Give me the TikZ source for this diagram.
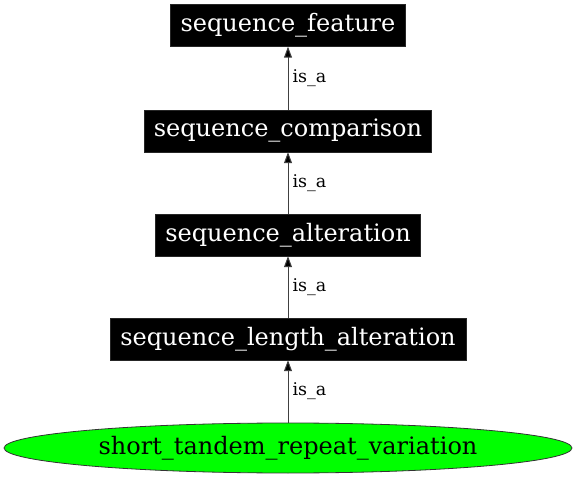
\documentclass[tikz,border=0pt]{standalone}
\usepackage{fontspec}
\setmainfont{DejaVu Serif}
\usetikzlibrary{arrows.meta,shapes.geometric}
\begin{document}
\begin{tikzpicture}[x=1pt,y=-1pt,
  termbox/.style={fill=black,text=white,draw=black!85,inner sep=0pt,font=\fontsize{24}{28}\selectfont},
  isa/.style={draw=black!75,line width=1pt,-{Triangle[length=11pt,width=8pt,fill=black]}},
  lbl/.style={font=\fontsize{17.5}{20}\selectfont,anchor=west,inner sep=0pt}]
\useasboundingbox (0,0) rectangle (576,478);
\node[termbox,minimum width=235pt,minimum height=42pt] (sf) at (288,25.5) {sequence\_feature};
\node[termbox,minimum width=287pt,minimum height=42pt] (sc) at (288,131) {sequence\_comparison};
\node[termbox,minimum width=265pt,minimum height=42pt] (sa) at (288,235) {sequence\_alteration};
\node[termbox,minimum width=356pt,minimum height=42pt] (sl) at (288,339) {sequence\_length\_alteration};
\node[ellipse,fill=green,draw=black!80,line width=0.8pt,inner sep=0pt,minimum width=568pt,minimum height=50pt,font=\fontsize{24}{28}\selectfont] (st) at (288,448) {short\_tandem\_repeat\_variation};
\draw[isa] (sc) -- node[lbl,pos=0.5,xshift=4pt] {is\_a} (sf);
\draw[isa] (sa) -- node[lbl,pos=0.5,xshift=4pt] {is\_a} (sc);
\draw[isa] (sl) -- node[lbl,pos=0.5,xshift=4pt] {is\_a} (sa);
\draw[isa] (st) -- node[lbl,pos=0.5,xshift=4pt] {is\_a} (sl);
\end{tikzpicture}
\end{document}
